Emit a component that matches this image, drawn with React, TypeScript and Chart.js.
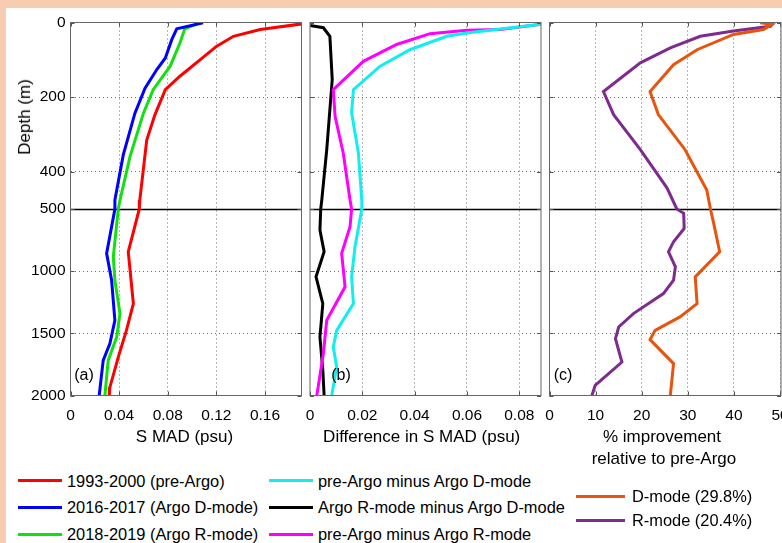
import React, { useEffect, useRef } from "react";
import { Chart, registerables, LinearScale } from "chart.js";

Chart.register(...registerables);

// Piecewise depth scale: 0-500 m occupies the top half, 500-2000 m the bottom half
class DepthScale extends LinearScale {
  static id = "depth";
  static defaults = (LinearScale as any).defaults;
  toDecimal(v: number) {
    return v <= 500 ? (v / 500) * 0.5 : 0.5 + ((v - 500) / 1500) * 0.5;
  }
  getPixelForValue(value: number) {
    return this.getPixelForDecimal(this.toDecimal(value));
  }
  getValueForPixel(pixel: number) {
    const d = this.getDecimalForPixel(pixel);
    return d <= 0.5 ? (d / 0.5) * 500 : 500 + ((d - 0.5) / 0.5) * 1500;
  }
}
Chart.register(DepthScale as any);

// ---------------- DATA ----------------
const depthTicks = [0, 200, 400, 500, 1000, 1500, 2000];
const xTicksA = [0, 0.04, 0.08, 0.12, 0.16];
const xTicksB = [0, 0.02, 0.04, 0.06, 0.08];
const xTicksC = [0, 10, 20, 30, 40, 50];

// Panel (a): S MAD (psu)
const preArgoDepth = [3, 19, 37, 64, 99, 144, 180, 247, 315, 476, 500, 844, 992, 1261, 1476, 1691, 1933, 2000];
const preArgoVal = [0.192, 0.156, 0.134, 0.12, 0.107, 0.09, 0.078, 0.0695, 0.0627, 0.057, 0.0566, 0.0475, 0.049, 0.0517, 0.046, 0.0393, 0.0324, 0.0319];
const dModeDepth = [1, 17, 46, 95, 126, 176, 243, 355, 476, 500, 857, 1073, 1395, 1583, 1718, 2000];
const dModeVal = [0.109, 0.0874, 0.0833, 0.078, 0.071, 0.0613, 0.053, 0.0434, 0.0365, 0.0365, 0.0297, 0.0338, 0.0365, 0.0324, 0.0269, 0.0236];
const rModeDepth = [1, 17, 55, 117, 180, 243, 359, 476, 500, 884, 1073, 1341, 1530, 1718, 2000];
const rModeVal = [0.106, 0.094, 0.09, 0.082, 0.068, 0.06, 0.049, 0.0407, 0.0393, 0.0352, 0.0365, 0.0407, 0.038, 0.031, 0.0283];

// Panel (b): Difference in S MAD (psu)
const preMinusDDepth = [3, 28, 37, 73, 117, 180, 242, 350, 476, 500, 804, 1046, 1261, 1476, 1610, 1771, 2000];
const preMinusDVal = [0.09, 0.0599, 0.0523, 0.0382, 0.0268, 0.0166, 0.0159, 0.0185, 0.0198, 0.0198, 0.0172, 0.0159, 0.0166, 0.0102, 0.0089, 0.0102, 0.0083];
const rMinusDDepth = [8, 14, 37, 153, 341, 476, 500, 669, 844, 1046, 1261, 1530, 1798, 2000];
const rMinusDVal = [0.0, 0.0051, 0.0076, 0.0085, 0.0064, 0.0045, 0.0041, 0.0038, 0.0054, 0.0023, 0.0049, 0.0038, 0.0049, 0.0054];
const preMinusRDepth = [3, 19, 21, 30, 59, 104, 180, 252, 350, 476, 500, 643, 857, 1126, 1395, 1664, 2000];
const preMinusRVal = [0.09, 0.0727, 0.0599, 0.0459, 0.0331, 0.0204, 0.0089, 0.0096, 0.0127, 0.0153, 0.0159, 0.0153, 0.0121, 0.0134, 0.0064, 0.0051, 0.0026];

// Panel (c): % improvement relative to pre-Argo
const impDDepth = [1, 5, 19, 32, 73, 113, 185, 247, 341, 449, 500, 615, 844, 1046, 1261, 1368, 1476, 1551, 1744, 2000];
const impDVal = [45.7, 48.2, 46.4, 39.9, 32.0, 26.9, 21.8, 23.6, 29.4, 34.1, 34.9, 35.6, 36.9, 31.6, 32.0, 28.3, 22.9, 21.8, 26.9, 26.2];
const impRDepth = [1, 10, 23, 37, 68, 108, 185, 247, 341, 444, 500, 535, 656, 763, 844, 965, 1073, 1180, 1341, 1449, 1543, 1731, 1919, 2000];
const impRVal = [48.6, 47.9, 39.9, 32.7, 26.2, 19.7, 11.7, 13.9, 19.7, 25.5, 27.6, 29.1, 29.2, 26.9, 25.8, 27.3, 26.9, 24.7, 18.2, 15.0, 14.3, 15.7, 9.9, 9.2];

const COLORS = {
  red: "#ff0000",
  blue: "#0000ff",
  green: "#11e011",
  cyan: "#11eeee",
  black: "#000000",
  magenta: "#ff00ff",
  orange: "#e8540e",
  purple: "#7e2b8e",
};

const FONT = "'Liberation Sans', Arial, Helvetica, sans-serif";

function pts(depth: number[], vals: number[]) {
  return depth.map((d, i) => ({ x: vals[i], y: d }));
}

type PanelCfg = {
  canvas: { x: number; y: number; w: number; h: number };
  area: { l: number; t: number; r: number; b: number };
  xMax: number;
  xTicks: number[];
  xFmt: (v: number) => string;
  showY: boolean;
  datasets: { data: { x: number; y: number }[]; color: string }[];
};

const panels: PanelCfg[] = [
  {
    canvas: { x: 0, y: 0, w: 320, h: 440 },
    area: { l: 70.5, t: 22.5, r: 301.5, b: 395.5 },
    xMax: 0.19,
    xTicks: xTicksA,
    xFmt: (v) => (v === 0 ? "0" : String(v)),
    showY: true,
    datasets: [
      { data: pts(preArgoDepth, preArgoVal), color: COLORS.red },
      { data: pts(dModeDepth, dModeVal), color: COLORS.blue },
      { data: pts(rModeDepth, rModeVal), color: COLORS.green },
    ],
  },
  {
    canvas: { x: 290, y: 0, w: 270, h: 440 },
    area: { l: 310, t: 22.5, r: 541, b: 395.5 },
    xMax: 0.0883,
    xTicks: xTicksB,
    xFmt: (v) => (v === 0 ? "0" : v.toFixed(2)),
    showY: false,
    datasets: [
      { data: pts(preMinusDDepth, preMinusDVal), color: COLORS.cyan },
      { data: pts(preMinusRDepth, preMinusRVal), color: COLORS.magenta },
      { data: pts(rMinusDDepth, rMinusDVal), color: COLORS.black },
    ],
  },
  {
    canvas: { x: 530, y: 0, w: 290, h: 440 },
    area: { l: 549.5, t: 22.5, r: 781, b: 395.5 },
    xMax: 50.2,
    xTicks: xTicksC,
    xFmt: (v) => String(v),
    showY: false,
    datasets: [
      { data: pts(impDDepth, impDVal), color: COLORS.orange },
      { data: pts(impRDepth, impRVal), color: COLORS.purple },
    ],
  },
];

const framePlugin = {
  id: "frame",
  beforeDatasetsDraw(chart: any) {
    const { ctx, chartArea } = chart;
    const y = Math.round(chart.scales.y.getPixelForValue(500)) + 0.5;
    ctx.save();
    ctx.strokeStyle = "#000";
    ctx.lineWidth = 1.3;
    ctx.setLineDash([]);
    ctx.beginPath();
    ctx.moveTo(chartArea.left, y);
    ctx.lineTo(chartArea.right, y);
    ctx.stroke();
    ctx.restore();
  },
  afterDraw(chart: any) {
    const { ctx, chartArea } = chart;
    const { left, right, top, bottom } = chartArea;
    ctx.save();
    ctx.strokeStyle = "#555555";
    ctx.lineWidth = 1;
    ctx.setLineDash([]);
    ctx.beginPath();
    const tl = 4;
    for (const t of chart.scales.x.ticks) {
      const px = Math.round(chart.scales.x.getPixelForValue(t.value)) + 0.5;
      ctx.moveTo(px, bottom);
      ctx.lineTo(px, bottom - tl);
      ctx.moveTo(px, top);
      ctx.lineTo(px, top + tl);
    }
    for (const t of chart.scales.y.ticks) {
      const py = Math.round(chart.scales.y.getPixelForValue(t.value)) + 0.5;
      ctx.moveTo(left, py);
      ctx.lineTo(left + tl, py);
      ctx.moveTo(right, py);
      ctx.lineTo(right - tl, py);
    }
    ctx.stroke();
    ctx.strokeStyle = "#666666";
    ctx.strokeRect(left, top, right - left, bottom - top);
    ctx.restore();
  },
};

function Panel({ cfg }: { cfg: PanelCfg }) {
  const ref = useRef<HTMLCanvasElement>(null);
  useEffect(() => {
    const { canvas, area } = cfg;
    const yW = area.l - canvas.x;
    const xH = 34;
    const chart = new Chart(ref.current!, {
      type: "line",
      data: {
        datasets: cfg.datasets.map((d) => ({
          data: d.data,
          borderColor: d.color,
          backgroundColor: d.color,
          borderWidth: 3,
          pointRadius: 0,
          tension: 0,
          fill: false,
        })),
      },
      plugins: [framePlugin],
      options: {
        responsive: false,
        animation: false,
        events: [],
        layout: {
          padding: {
            left: 0,
            top: area.t - canvas.y,
            right: canvas.x + canvas.w - area.r,
            bottom: canvas.y + canvas.h - area.b - xH,
          },
        },
        plugins: {
          legend: { display: false },
          tooltip: { enabled: false },
          title: { display: false },
        },
        scales: {
          x: {
            type: "linear",
            min: 0,
            max: cfg.xMax,
            afterBuildTicks: (s: any) => {
              s.ticks = cfg.xTicks.map((v) => ({ value: v }));
            },
            afterFit: (s: any) => {
              s.height = xH;
            },
            ticks: {
              autoSkip: false,
              maxRotation: 0,
              padding: 11,
              color: "#000",
              font: { family: FONT, size: 15.5 },
              callback: (v: any) => cfg.xFmt(Number(v)),
            },
            grid: {
              drawTicks: false,
              color: (c: any) =>
                c.tick && (c.tick.value === 0 || c.tick.value >= cfg.xMax - 1e-9)
                  ? "rgba(0,0,0,0)"
                  : "#6f6f6f",
              lineWidth: 1,
            },
            border: { display: false, dash: [1, 3] },
          },
          y: {
            type: "depth" as any,
            reverse: true,
            min: 0,
            max: 2000,
            afterBuildTicks: (s: any) => {
              s.ticks = depthTicks.map((v) => ({ value: v }));
            },
            afterFit: (s: any) => {
              s.width = yW;
            },
            ticks: {
              display: cfg.showY,
              autoSkip: false,
              padding: 5,
              color: "#000",
              font: { family: FONT, size: 15.5 },
              callback: (v: any) => String(v),
            },
            grid: {
              drawTicks: false,
              color: (c: any) =>
                c.tick && (c.tick.value === 0 || c.tick.value === 500 || c.tick.value === 2000)
                  ? "rgba(0,0,0,0)"
                  : "#6f6f6f",
              lineWidth: 1,
            },
            border: { display: false, dash: [1, 3] },
          },
        },
      } as any,
    });
    return () => chart.destroy();
  }, [cfg]);
  return (
    <canvas
      ref={ref}
      width={cfg.canvas.w}
      height={cfg.canvas.h}
      style={{
        position: "absolute",
        left: cfg.canvas.x,
        top: cfg.canvas.y,
        width: cfg.canvas.w,
        height: cfg.canvas.h,
      }}
    />
  );
}

const legendA = [
  { label: "1993-2000 (pre-Argo)", color: COLORS.red },
  { label: "2016-2017 (Argo D-mode)", color: COLORS.blue },
  { label: "2018-2019 (Argo R-mode)", color: COLORS.green },
];
const legendB = [
  { label: "pre-Argo minus Argo D-mode", color: COLORS.cyan },
  { label: "Argo R-mode minus Argo D-mode", color: COLORS.black },
  { label: "pre-Argo minus Argo R-mode", color: COLORS.magenta },
];
const legendC = [
  { label: "D-mode (29.8%)", color: COLORS.orange },
  { label: "R-mode (20.4%)", color: COLORS.purple },
];

function Legend({
  items,
  x,
  y0,
  dy,
  len,
  gap,
}: {
  items: { label: string; color: string }[];
  x: number;
  y0: number;
  dy: number;
  len: number;
  gap: number;
}) {
  return (
    <>
      {items.map((it, i) => (
        <div
          key={it.label}
          style={{
            position: "absolute",
            left: x,
            top: y0 + i * dy - 10,
            height: 20,
            display: "flex",
            alignItems: "center",
            whiteSpace: "nowrap",
            fontSize: 16.4,
            lineHeight: "20px",
          }}
        >
          <span
            style={{
              display: "inline-block",
              width: len,
              height: 3,
              background: it.color,
              marginRight: gap,
            }}
          />
          <span>{it.label}</span>
        </div>
      ))}
    </>
  );
}

function Text({ x, y, children, size = 17, rotate = false }: any) {
  return (
    <div
      style={{
        position: "absolute",
        left: x,
        top: y,
        transform: `translate(-50%, -50%)${rotate ? " rotate(-90deg)" : ""}`,
        fontSize: size,
        lineHeight: "20px",
        whiteSpace: "nowrap",
        textAlign: "center",
      }}
    >
      {children}
    </div>
  );
}

export default function App() {
  return (
    <div
      style={{
        position: "fixed",
        left: 0,
        top: 0,
        width: 782,
        height: 543,
        overflow: "hidden",
        background: "#f6cdb0",
        fontFamily: FONT,
        color: "#000",
      }}
    >
      <div
        style={{
          position: "absolute",
          left: 6,
          top: 8,
          width: 776,
          height: 535,
          background: "#ffffff",
        }}
      />
      {panels.map((p, i) => (
        <Panel key={i} cfg={p} />
      ))}
      <Text x={25} y={117} rotate>
        Depth (m)
      </Text>
      <Text x={184.5} y={436.7}>S MAD (psu)</Text>
      <Text x={421.7} y={436.7}>Difference in S MAD (psu)</Text>
      <Text x={662} y={436.7}>% improvement</Text>
      <Text x={664} y={459}>relative to pre-Argo</Text>
      <Text x={84} y={375} size={16}>(a)</Text>
      <Text x={341} y={375} size={16}>(b)</Text>
      <Text x={563} y={375} size={16}>(c)</Text>
      <Legend items={legendA} x={18} y0={480.7} dy={26.7} len={44} gap={5} />
      <Legend items={legendB} x={269} y0={480.7} dy={26.7} len={44} gap={5} />
      <Legend items={legendC} x={576} y0={496} dy={24} len={49} gap={7} />
    </div>
  );
}
